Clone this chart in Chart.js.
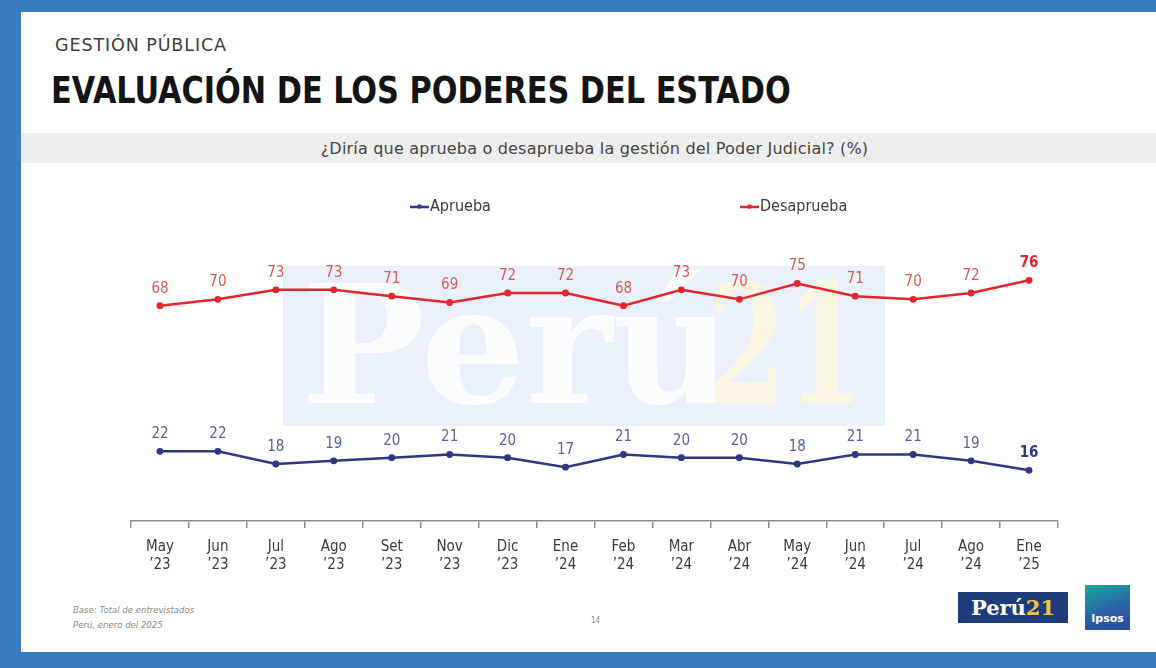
<!DOCTYPE html>
<html>
<head>
<meta charset="utf-8">
<script src="https://cdn.jsdelivr.net/npm/chart.js@4"></script>
<style>
  html, body { margin: 0; padding: 0; }
  body { width: 1156px; height: 668px; background: #3a7cc2; position: relative; overflow: hidden;
         font-family: "DejaVu Sans Condensed", "Roboto", sans-serif; }
  #panel { position: absolute; left: 21px; top: 12px; width: 1135px; height: 640px; background: #fff; }
  .abs { position: absolute; white-space: nowrap; }
  #kicker { left: 55px; top: 35px; font-family: "DejaVu Sans", sans-serif; font-size: 17.5px;
            letter-spacing: 0.9px; color: #3c3c3c; }
  #title { left: 51px; top: 68px; font-size: 38px; font-weight: bold; color: #141414;
           transform: scaleX(0.887); transform-origin: left top; }
  #band { left: 21px; top: 133px; width: 1135px; height: 30px; background: #eeeeee; }
  #question { left: 131px; width: 927px; top: 139px; text-align: center; font-family: "DejaVu Sans", sans-serif;
              font-size: 16px; letter-spacing: 0.2px; color: #444; }
  #wm { left: 283px; top: 266px; width: 602px; height: 160px; background: #eaf0f9; overflow: hidden; }
  #wm span { position: absolute; top: -18px; font-family: "DejaVu Serif", "Liberation Serif", serif;
             font-weight: bold; font-size: 165px; transform-origin: left top; }
  .foot { font-style: italic; font-size: 9.5px; color: #8a8a8a; }
  #logo21 { left: 958px; top: 592px; width: 110px; height: 31px; background: #1d3c79;
            font-family: "DejaVu Serif", "Liberation Serif", serif; font-weight: bold; font-size: 21px;
            line-height: 31px; text-align: center; color: #fff; }
  #logo21 b { color: #f0c53c; }
  #ipsos { left: 1085px; top: 585px; width: 45px; height: 45px;
           background: linear-gradient(160deg, #19a99b 0%, #2a62a8 55%, #2b4a9c 100%);
           color: #fff; font-family: "DejaVu Sans", sans-serif; font-weight: bold; font-size: 11px;
           text-align: center; line-height: 12px; }
  #ipsos span { position: absolute; left: 0; right: 0; bottom: 5px; }
  #wrap { position: absolute; left: 0; top: 0; width: 1156px; height: 668px; }
</style>
</head>
<body>
<div id="panel"></div>
<div class="abs" id="kicker">GESTIÓN PÚBLICA</div>
<div class="abs" id="title">EVALUACIÓN DE LOS PODERES DEL ESTADO</div>
<div class="abs" id="band"></div>
<div class="abs" id="question">¿Diría que aprueba o desaprueba la gestión del Poder Judicial? (%)</div>
<div class="abs" id="wm"><span style="left:18px;color:#fbfcfe">Perú</span><span style="left:425px;color:#faf5e0;transform:scaleX(0.68)">21</span></div>
<div class="abs foot" style="left:73px;top:604px">Base: Total de entrevistados</div>
<div class="abs foot" style="left:73px;top:619px">Perú, enero del 2025</div>
<div class="abs" style="left:591px;top:616px;font-size:8px;color:#888">14</div>
<div class="abs" id="logo21">Perú<b>21</b></div>
<div class="abs" id="ipsos"><span>Ipsos</span></div>
<div id="wrap"><canvas id="chart"></canvas></div>
<script>
const months = ['May', 'Jun', 'Jul', 'Ago', 'Set', 'Nov', 'Dic', 'Ene', 'Feb', 'Mar', 'Abr', 'May', 'Jun', 'Jul', 'Ago', 'Ene'];
const years = ['’23', '’23', '’23', '’23', '’23', '’23', '’23', '’24', '’24', '’24', '’24', '’24', '’24', '’24', '’24', '’25'];
const aprueba = [22, 22, 18, 19, 20, 21, 20, 17, 21, 20, 20, 18, 21, 21, 19, 16];
const desaprueba = [68, 70, 73, 73, 71, 69, 72, 72, 68, 73, 70, 75, 71, 70, 72, 76];

const labelFont = '"DejaVu Sans Condensed", sans-serif';

const labelsPlugin = {
    id: 'pointLabels',
    afterDatasetsDraw(chart) {
        const c = chart.ctx;
        c.save();
        c.textAlign = 'center';
        c.textBaseline = 'middle';
        chart.data.datasets.forEach((ds, i) => {
            const meta = chart.getDatasetMeta(i);
            meta.data.forEach((pt, j) => {
                const last = j === meta.data.length - 1;
                c.font = (last ? 'bold ' : '') + '15px ' + labelFont;
                c.fillStyle = last ? ds.borderColor : ds.labelColor;
                c.fillText(ds.data[j], pt.x, pt.y - 17);
            });
        });
        c.restore();
    }
};

const legendPlugin = {
    id: 'lineLegend',
    afterDraw(chart) {
        const c = chart.ctx;
        const spots = [410, 740];
        c.save();
        c.font = '16px ' + labelFont;
        c.textBaseline = 'middle';
        chart.data.datasets.forEach((ds, i) => {
            const x = spots[i], y = 207;
            c.strokeStyle = ds.borderColor;
            c.lineWidth = 2.5;
            c.beginPath();
            c.moveTo(x, y);
            c.lineTo(x + 19, y);
            c.stroke();
            c.fillStyle = ds.borderColor;
            c.beginPath();
            c.arc(x + 9.5, y - 0.5, 2.3, 0, Math.PI * 2);
            c.fill();
            c.fillStyle = '#3a3a3a';
            c.fillText(ds.label, x + 20, y);
        });
        c.restore();
    }
};

new Chart(document.getElementById('chart'), {
    type: 'line',
    data: {
        labels: months.map((m, i) => [m, years[i]]),
        datasets: [
            {
                label: 'Aprueba',
                data: aprueba,
                borderColor: '#2d3784',
                backgroundColor: '#2d3784',
                labelColor: '#55639c',
                borderWidth: 2.5,
                pointRadius: 2.2,
                pointHoverRadius: 2.2,
                tension: 0
            },
            {
                label: 'Desaprueba',
                data: desaprueba,
                borderColor: '#e1262d',
                backgroundColor: '#e1262d',
                labelColor: '#d85a58',
                borderWidth: 2.5,
                pointRadius: 2.2,
                pointHoverRadius: 2.2,
                tension: 0
            }
        ]
    },
    options: {
        responsive: true,
        maintainAspectRatio: false,
        animation: false,
        layout: {
            padding: { left: 131, right: 98, top: 236, bottom: 87 }
        },
        scales: {
            x: {
                offset: true,
                afterFit: (scale) => { scale.height = 60; },
                border: { display: true, color: '#8c8c8c', width: 1.5 },
                grid: {
                    display: true,
                    offset: true,
                    drawOnChartArea: false,
                    drawTicks: true,
                    tickLength: 7,
                    color: '#8c8c8c',
                    lineWidth: 1.5
                },
                ticks: {
                    color: '#3a3a3a',
                    padding: 10,
                    maxRotation: 0,
                    autoSkip: false,
                    font: { family: labelFont, size: 15, lineHeight: 1.2 }
                }
            },
            y: {
                display: false,
                min: 0,
                max: 90
            }
        },
        plugins: {
            legend: { display: false },
            tooltip: { enabled: false }
        }
    },
    plugins: [labelsPlugin, legendPlugin]
});
</script>
</body>
</html>
